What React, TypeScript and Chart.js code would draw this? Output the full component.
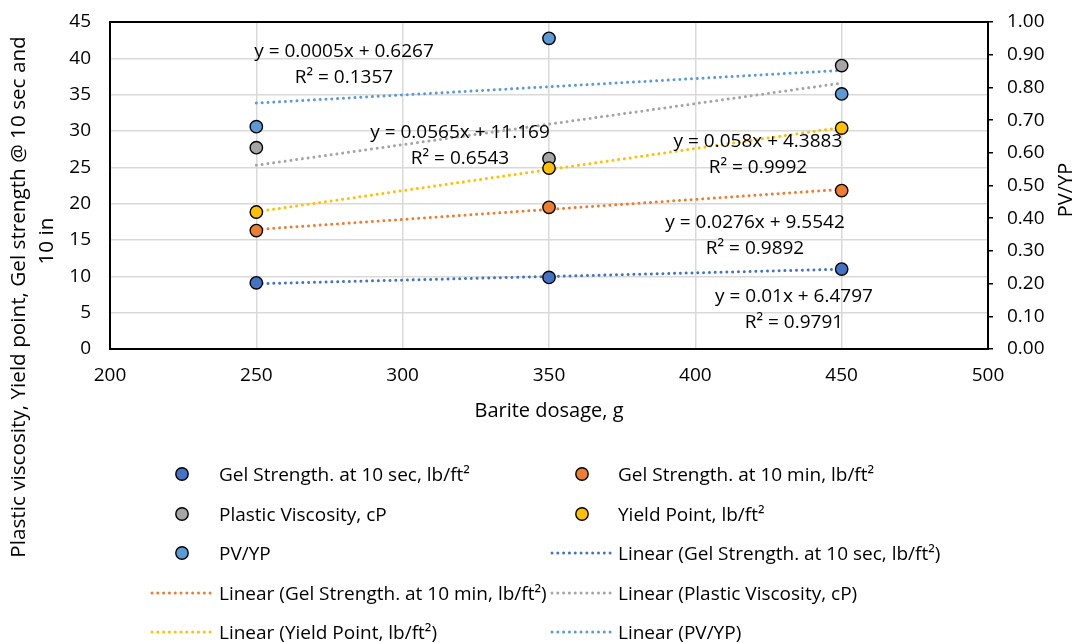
import React, { useEffect, useRef } from "react";
import { Chart, registerables } from "chart.js";

Chart.register(...registerables);

// ---------- data ----------
const BARITE_DOSAGE = [250, 350, 450];
const GEL_10SEC = [9.1, 9.85, 11.0];
const GEL_10MIN = [16.3, 19.5, 21.8];
const PLASTIC_VISC = [27.7, 26.2, 39.0];
const YIELD_POINT = [18.85, 24.9, 30.4];
const PV_YP = [0.68, 0.95, 0.78];

const TREND_X = [250, 450];
const TREND_GEL_10SEC = [8.98, 10.98];
const TREND_GEL_10MIN = [16.45, 21.97];
const TREND_PLASTIC_VISC = [25.29, 36.59];
const TREND_YIELD_POINT = [18.89, 30.49];
const TREND_PV_YP = [0.752, 0.852];

const SERIES_NAMES = [
  "Gel Strength. at 10 sec, lb/ft²",
  "Gel Strength. at 10 min, lb/ft²",
  "Plastic Viscosity, cP",
  "Yield Point, lb/ft²",
  "PV/YP",
];
const EQUATIONS = [
  "y = 0.01x + 6.4797",
  "y = 0.0276x + 9.5542",
  "y = 0.0565x + 11.169",
  "y = 0.058x + 4.3883",
  "y = 0.0005x + 0.6267",
];
const R_SQUARED = ["R² = 0.9791", "R² = 0.9892", "R² = 0.6543", "R² = 0.9992", "R² = 0.1357"];

const X_TICKS = [200, 250, 300, 350, 400, 450, 500];
const Y_TICKS = [0, 5, 10, 15, 20, 25, 30, 35, 40, 45];
const Y2_TICKS = [0, 0.1, 0.2, 0.3, 0.4, 0.5, 0.6, 0.7, 0.8, 0.9, 1.0];

const X_TITLE = "Barite dosage, g";
const Y_TITLE = ["Plastic viscosity, Yield point, Gel strength @ 10 sec and", "10 in"];
const Y2_TITLE = "PV/YP";

// ---------- styles ----------
const COLORS = ["#4472C4", "#ED7D31", "#A5A5A5", "#FFC000", "#5B9BD5"];
const FONT = "'Open Sans', 'Noto Sans', sans-serif";
const FS = 19;
// equation label anchor (data coords of the first line's centre)
const EQ_ANCHORS = [
  [433.7, 7.16],
  [420.4, 17.34],
  [319.6, 29.72],
  [421.4, 28.49],
  [279.95, 40.87],
];

const pts = (xs: number[], ys: number[]) => xs.map((x, i) => ({ x, y: ys[i] }));

const extrasPlugin = {
  id: "extras",
  afterDraw(chart: any) {
    const { ctx, chartArea: a, scales } = chart;
    ctx.save();
    ctx.strokeStyle = "#000";
    ctx.lineWidth = 2;
    ctx.strokeRect(a.left, a.top, a.right - a.left, a.bottom - a.top);

    ctx.fillStyle = "#000";
    ctx.textAlign = "center";
    ctx.textBaseline = "middle";
    ctx.font = `${FS}px ${FONT}`;
    EQUATIONS.forEach((t, i) => {
      const x = scales.x.getPixelForValue(EQ_ANCHORS[i][0]);
      const y = scales.y.getPixelForValue(EQ_ANCHORS[i][1]);
      ctx.fillText(t, x, y);
      ctx.fillText(R_SQUARED[i], x, y + 25.5);
    });

    ctx.font = `${FS + 1}px ${FONT}`;
    ctx.fillText(X_TITLE, (a.left + a.right) / 2, 411);

    const rot = (text: string, x: number, y: number) => {
      ctx.save();
      ctx.translate(x, y);
      ctx.rotate(-Math.PI / 2);
      ctx.fillText(text, 0, 0);
      ctx.restore();
    };
    ctx.font = `20.7px ${FONT}`;
    rot(Y_TITLE[0], 19, 297);
    rot(Y_TITLE[1], 47, 241);
    ctx.font = `${FS + 1}px ${FONT}`;
    rot(Y2_TITLE, 1066, 190);
    ctx.restore();
  },
};

function LegendMarker({ color }: { color: string }) {
  return (
    <svg width={16} height={16} style={{ position: "absolute", left: -8, top: -8 }}>
      <circle cx={8} cy={8} r={6.2} fill={color} stroke="#000" strokeWidth={1.4} />
    </svg>
  );
}
function LegendLine({ color }: { color: string }) {
  return (
    <svg width={64} height={6} style={{ position: "absolute", left: -32, top: -3 }}>
      <line x1={2} y1={3} x2={62} y2={3} stroke={color} strokeWidth={3} strokeLinecap="round" strokeDasharray="0.01 5.8" />
    </svg>
  );
}

export default function App() {
  const ref = useRef<HTMLCanvasElement | null>(null);

  useEffect(() => {
    if (!ref.current) return;
    const pointSets = [GEL_10SEC, GEL_10MIN, PLASTIC_VISC, YIELD_POINT, PV_YP];
    const trendSets = [TREND_GEL_10SEC, TREND_GEL_10MIN, TREND_PLASTIC_VISC, TREND_YIELD_POINT, TREND_PV_YP];
    const datasets: any[] = [];
    pointSets.forEach((vals, i) => {
      datasets.push({
        type: "scatter",
        label: SERIES_NAMES[i],
        data: pts(BARITE_DOSAGE, vals),
        yAxisID: i === 4 ? "y2" : "y",
        pointRadius: 6.2,
        pointBackgroundColor: COLORS[i],
        pointBorderColor: "#000",
        pointBorderWidth: 1.4,
        showLine: false,
        order: 10 - i,
      });
    });
    trendSets.forEach((vals, i) => {
      datasets.push({
        type: "line",
        label: `Linear (${SERIES_NAMES[i]})`,
        data: pts(TREND_X, vals),
        yAxisID: i === 4 ? "y2" : "y",
        borderColor: COLORS[i],
        borderWidth: 3,
        borderDash: [0.01, 5.8],
        borderCapStyle: "round",
        pointRadius: 0,
        fill: false,
        order: 30 - i,
      });
    });

    const tickFont = { family: FONT, size: FS };
    const chart = new Chart(ref.current, {
      data: { datasets },
      options: {
        animation: false,
        responsive: false,
        maintainAspectRatio: false,
        layout: { padding: { top: 22, left: 0, right: 0, bottom: 0 } },
        plugins: { legend: { display: false }, tooltip: { enabled: false } },
        scales: {
          x: {
            type: "linear",
            position: "bottom",
            min: 200,
            max: 500,
            afterBuildTicks: (s: any) => { s.ticks = X_TICKS.map((v) => ({ value: v })); },
            afterFit: (s: any) => { s.height = 294; },
            ticks: { font: tickFont, color: "#000", padding: 15 },
            grid: { color: "#d9d9d9", lineWidth: 1.5, drawTicks: false },
            border: { color: "#000", width: 2 },
          },
          y: {
            type: "linear",
            position: "left",
            min: 0,
            max: 45,
            afterBuildTicks: (s: any) => { s.ticks = Y_TICKS.map((v) => ({ value: v })); },
            afterFit: (s: any) => { s.width = 110; s.paddingTop = 0; s.paddingBottom = 0; },
            ticks: { font: tickFont, color: "#000", padding: 19 },
            grid: { color: "#d9d9d9", lineWidth: 1.5, drawTicks: false },
            border: { color: "#000", width: 2 },
          },
          y2: {
            type: "linear",
            position: "right",
            min: 0,
            max: 1,
            afterBuildTicks: (s: any) => { s.ticks = Y2_TICKS.map((v) => ({ value: v })); },
            afterFit: (s: any) => { s.width = 87; s.paddingTop = 0; s.paddingBottom = 0; },
            ticks: { font: tickFont, color: "#000", padding: 14, callback: (v: any) => Number(v).toFixed(2) },
            grid: { drawOnChartArea: false, color: "#000", lineWidth: 1.5, tickLength: 5 },
            border: { color: "#000", width: 2 },
          },
        },
      } as any,
      plugins: [extrasPlugin],
    });
    return () => chart.destroy();
  }, []);

  const legendItems: { kind: "m" | "l"; color: string; text: string }[] = [];
  SERIES_NAMES.forEach((n, i) => legendItems.push({ kind: "m", color: COLORS[i], text: n }));
  SERIES_NAMES.forEach((n, i) => legendItems.push({ kind: "l", color: COLORS[i], text: `Linear (${n})` }));

  return (
    <div style={{ position: "absolute", left: 0, top: 0, width: 1075, height: 643, background: "#fff", overflow: "hidden" }}>
      <canvas ref={ref} width={1075} height={643} style={{ display: "block" }} />
      {legendItems.map((it, i) => {
        const col = i % 2;
        const row = Math.floor(i / 2);
        const cy = 474 + row * 39.6;
        const cx = col === 0 ? 182 : 582;
        const tx = col === 0 ? 219 : 618;
        return (
          <React.Fragment key={i}>
            <div style={{ position: "absolute", left: cx, top: cy, width: 0, height: 0 }}>
              {it.kind === "m" ? <LegendMarker color={it.color} /> : <LegendLine color={it.color} />}
            </div>
            <div
              style={{
                position: "absolute",
                left: tx,
                top: cy,
                transform: "translateY(-50%)",
                font: `${FS}px ${FONT}`,
                color: "#000",
                whiteSpace: "nowrap",
                lineHeight: 1.2,
              }}
            >
              {it.text}
            </div>
          </React.Fragment>
        );
      })}
    </div>
  );
}
